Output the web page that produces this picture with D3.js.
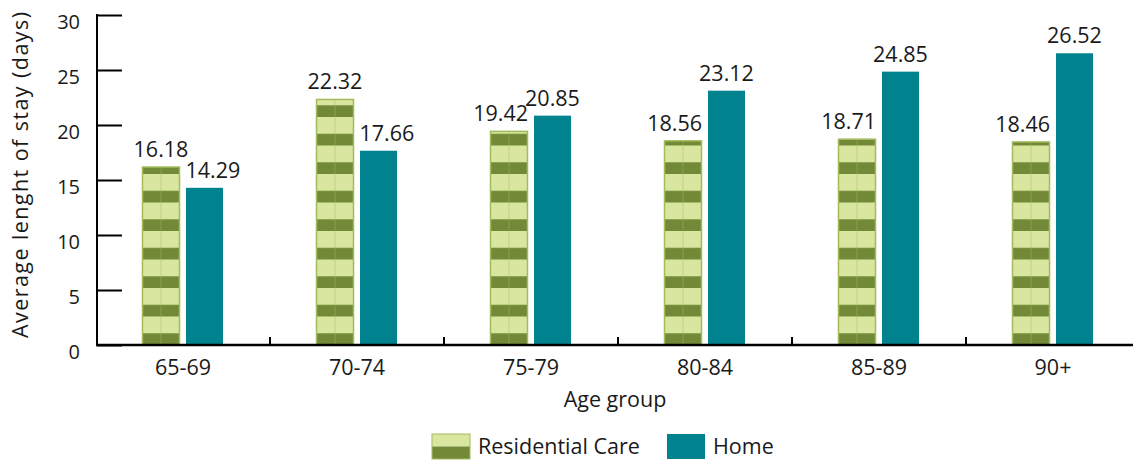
<!DOCTYPE html>
<html>
<head>
<meta charset="utf-8">
<script src="https://cdn.jsdelivr.net/npm/d3@7"></script>
<style>
  body { margin: 0; background: #fff; }
  svg { display: block; font-family: "Open Sans", Lato, sans-serif; }
  text { fill: #1a1a1a; }
</style>
</head>
<body>
<svg id="chart" width="1133" height="461"></svg>
<script>
const ageGroups = ['65-69', '70-74', '75-79', '80-84', '85-89', '90+'];
const residentialCare = [16.18, 22.32, 19.42, 18.56, 18.71, 18.46];
const home = [14.29, 17.66, 20.85, 23.12, 24.85, 26.52];
const yTicks = [0, 5, 10, 15, 20, 25, 30];
const seriesNames = ['Residential Care', 'Home'];

const svg = d3.select('#chart');
const light = '#d8e6a0';
const dark = '#728a37';
const edge = '#a3bb5c';
const teal = '#00838f';
const fs = 21.5;

const x = d3.scaleBand().domain(ageGroups).range([96, 1140]);
const y = d3.scaleLinear().domain([0, 30]).range([345, 15]);
const barW = 37;
const resLeft = g => x(g) + x.bandwidth() / 2 - 40.5;
const homeLeft = g => x(g) + x.bandwidth() / 2 + 3;

// striped fill, anchored on the baseline
const stripe = 28.5;
const pat = svg.append('defs').append('pattern')
  .attr('id', 'stripes')
  .attr('patternUnits', 'userSpaceOnUse')
  .attr('x', 0)
  .attr('y', y(0) % stripe)
  .attr('width', 2000)
  .attr('height', stripe);
pat.append('rect').attr('width', 2000).attr('height', stripe).attr('fill', light);
pat.append('rect').attr('y', stripe - 11.7).attr('width', 2000).attr('height', 11.7).attr('fill', dark);

const data = ageGroups.map((g, i) => ({ group: g, res: residentialCare[i], home: home[i] }));

const groups = svg.append('g').selectAll('g')
  .data(data)
  .enter()
  .append('g');

// residential care bars
groups.append('rect')
  .attr('x', d => resLeft(d.group))
  .attr('y', d => y(d.res))
  .attr('width', barW)
  .attr('height', d => y(0) - y(d.res))
  .attr('fill', 'url(#stripes)')
  .attr('stroke', edge)
  .attr('stroke-width', 1.5);

groups.append('line')
  .attr('x1', d => resLeft(d.group) + barW / 2)
  .attr('x2', d => resLeft(d.group) + barW / 2)
  .attr('y1', d => y(d.res) + 1)
  .attr('y2', y(0))
  .attr('stroke', edge)
  .attr('stroke-opacity', 0.45)
  .attr('stroke-width', 1);

// home bars
groups.append('rect')
  .attr('x', d => homeLeft(d.group))
  .attr('y', d => y(d.home))
  .attr('width', barW)
  .attr('height', d => y(0) - y(d.home))
  .attr('fill', teal);

// value labels: centred on the bar, nudged off the taller neighbour
const gap = 6;
groups.append('text')
  .attr('y', d => y(d.res) - 10)
  .attr('font-size', fs)
  .text(d => d.res.toFixed(2))
  .attr('x', function (d) {
    const w = this.getComputedTextLength();
    let left = resLeft(d.group) + barW / 2 - w / 2;
    if (d.home > d.res) left = Math.min(left, homeLeft(d.group) - gap - w);
    return left;
  });

groups.append('text')
  .attr('y', d => y(d.home) - 10)
  .attr('font-size', fs)
  .text(d => d.home.toFixed(2))
  .attr('x', function (d) {
    const w = this.getComputedTextLength();
    let left = homeLeft(d.group) + barW / 2 - w / 2;
    if (d.res > d.home) left = Math.max(left, resLeft(d.group) + barW + gap);
    return left;
  });

// y axis
const yAxis = svg.append('g')
  .attr('transform', 'translate(97,0)')
  .call(d3.axisRight(y).tickValues(yTicks).tickSize(25).tickFormat(''));
yAxis.select('.domain').remove();
yAxis.selectAll('line').attr('stroke', '#000').attr('stroke-width', 2);

svg.append('line')
  .attr('x1', 97).attr('x2', 97)
  .attr('y1', y(30) - 1).attr('y2', y(0) + 1)
  .attr('stroke', '#000').attr('stroke-width', 2);

svg.append('g').selectAll('text')
  .data(yTicks)
  .enter()
  .append('text')
  .attr('x', 80)
  .attr('y', d => y(d) + 13.5)
  .attr('text-anchor', 'end')
  .attr('font-size', 20)
  .text(d => d);

// x axis
svg.append('line')
  .attr('x1', 96).attr('x2', 1133)
  .attr('y1', y(0)).attr('y2', y(0))
  .attr('stroke', '#000').attr('stroke-width', 2.5);

svg.append('g').selectAll('line')
  .data(ageGroups.slice(1))
  .enter()
  .append('line')
  .attr('x1', d => x(d)).attr('x2', d => x(d))
  .attr('y1', y(0) - 8).attr('y2', y(0))
  .attr('stroke', '#000').attr('stroke-width', 2);

svg.append('g').selectAll('text')
  .data(ageGroups)
  .enter()
  .append('text')
  .attr('x', d => x(d) + x.bandwidth() / 2)
  .attr('y', 375)
  .attr('text-anchor', 'middle')
  .attr('font-size', fs)
  .text(d => d);

svg.append('text')
  .attr('x', 615)
  .attr('y', 407)
  .attr('text-anchor', 'middle')
  .attr('font-size', fs)
  .text('Age group');

svg.append('text')
  .attr('transform', 'translate(28,175) rotate(-90)')
  .attr('text-anchor', 'middle')
  .attr('font-size', fs)
  .attr('textLength', 326)
  .attr('lengthAdjust', 'spacing')
  .text('Average lenght of stay (days)');

// legend
const legendX = [432, 667];
const legend = svg.append('g').selectAll('g')
  .data(seriesNames)
  .enter()
  .append('g')
  .attr('transform', (d, i) => `translate(${legendX[i]},434)`);

legend.filter((d, i) => i === 0).append('rect')
  .attr('width', 38).attr('height', 12.5).attr('fill', light);
legend.filter((d, i) => i === 0).append('rect')
  .attr('y', 12.5).attr('width', 38).attr('height', 12.5).attr('fill', dark);
legend.filter((d, i) => i === 0).append('rect')
  .attr('width', 38).attr('height', 25)
  .attr('fill', 'none').attr('stroke', edge).attr('stroke-width', 1);
legend.filter((d, i) => i === 1).append('rect')
  .attr('width', 38).attr('height', 25).attr('fill', teal);

legend.append('text')
  .attr('x', 46)
  .attr('y', 19.5)
  .attr('font-size', fs)
  .text(d => d);
</script>
</body>
</html>
